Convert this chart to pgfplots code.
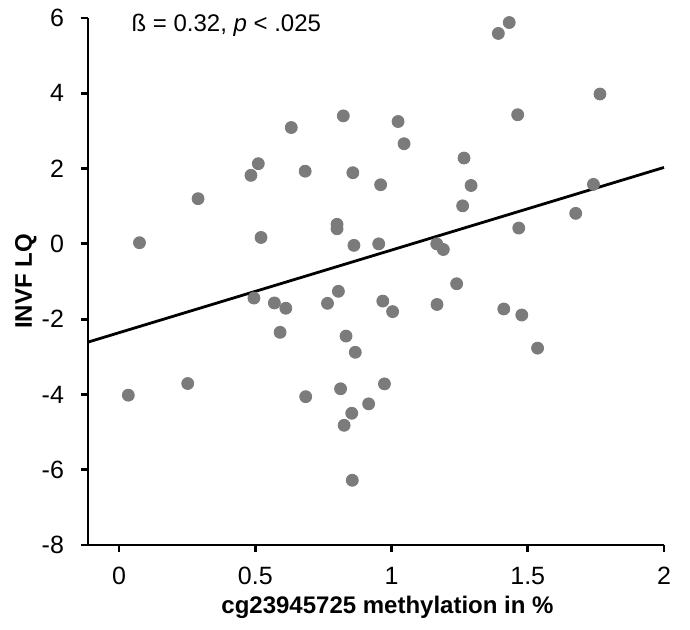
\documentclass[border=0pt]{standalone}
\usepackage{fontspec}
\setmainfont{Liberation Sans}
\usepackage{pgfplots}
\pgfplotsset{compat=1.18}
\definecolor{dotgray}{HTML}{7B7B7B}

\begin{document}
\begin{tikzpicture}
\begin{axis}[
  name=main,
  scale only axis,
  width=288pt, height=263.5pt,
  xmin=-0.114, xmax=2,
  ymin=-8, ymax=6,
  axis x line*=bottom,
  axis y line*=left,
  xtick={0,0.5,1,1.5,2},
  ytick={-8,-6,-4,-2,0,2,4,6},
  tick align=outside,
  major tick length=3.5pt,
  axis line style={line width=1.4pt},
  tick style={line width=1.4pt, black},
  ticklabel style={font=\fontsize{12.5}{15}\selectfont},
  /pgf/number format/assume math mode=true,
  xticklabel style={yshift=-4pt},
  yticklabel style={xshift=-5pt},
  xlabel={cg23945725 methylation in \%},
  ylabel={INVF LQ},
  label style={font=\fontsize{12}{14}\selectfont\bfseries},
  xlabel style={at={(axis description cs:0.52,0)}, anchor=center, yshift=-31pt},
  ylabel style={at={(axis description cs:-0.108,0.5)}, anchor=center},
  clip=false,
]
% subjects
\addplot[only marks, mark=*, mark size=3pt, dotgray, mark options={draw=dotgray, fill=dotgray}] coordinates {
  (0.823,3.40) (0.632,3.09) (0.511,2.13) (0.484,1.82) (0.683,1.93)
  (0.858,1.89) (0.290,1.20) (0.075,0.03) (0.521,0.17) (0.800,0.52)
  (0.800,0.40) (0.862,-0.04) (1.432,5.88) (1.392,5.59) (1.765,3.98)
  (1.463,3.43) (1.024,3.25) (1.046,2.66) (1.266,2.28) (0.960,1.57)
  (1.292,1.55) (1.741,1.58) (1.261,1.01) (1.676,0.81) (1.467,0.42)
  (0.953,0.00) (1.166,0.00) (1.190,-0.15) (0.495,-1.44) (0.570,-1.57)
  (0.612,-1.71) (0.805,-1.26) (0.765,-1.58) (0.591,-2.35) (0.833,-2.45)
  (0.867,-2.88) (0.034,-4.02) (0.252,-3.71) (0.685,-4.06) (0.813,-3.85)
  (0.854,-4.50) (0.826,-4.82) (0.856,-6.28) (1.239,-1.06) (0.968,-1.52)
  (1.004,-1.80) (1.167,-1.61) (1.412,-1.73) (1.478,-1.89) (1.536,-2.77)
  (0.974,-3.72) (0.916,-4.25)
};
% regression line
\addplot[black, line width=1.4pt] coordinates {(-0.114,-2.61) (2,2.03)};
\node[anchor=west, font=\fontsize{12}{14}\selectfont] at (axis cs:0.02,5.8)
  {ß = 0.32, \textit{p} < .025};
\end{axis}
\pgfresetboundingbox
\path ([shift={(-44pt,-42pt)}]main.south west) rectangle ([shift={(13pt,9pt)}]main.north east);
\end{tikzpicture}
\end{document}
